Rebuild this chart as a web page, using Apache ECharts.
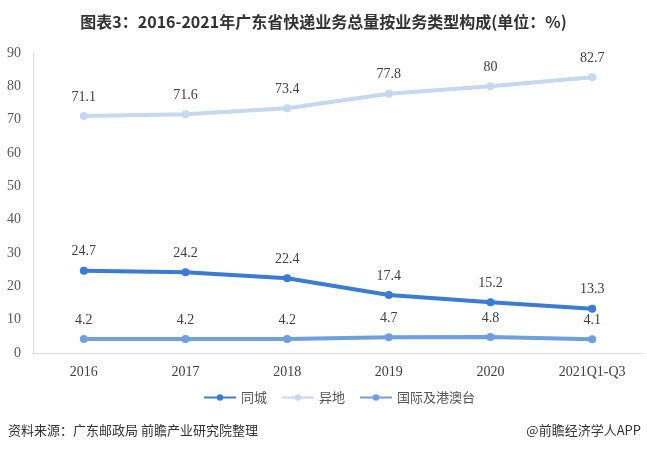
<!DOCTYPE html>
<html><head><meta charset="utf-8">
<script src="https://cdn.jsdelivr.net/npm/echarts@6/dist/echarts.min.js"></script>
<style>html,body{margin:0;padding:0;background:#fff;}#c{width:647px;height:450px;}</style>
</head><body><div id="c"></div>
<script>
const categories = ['2016','2017','2018','2019','2020','2021Q1-Q3'];
const sameCity = [24.7, 24.2, 22.4, 17.4, 15.2, 13.3];
const interCity = [71.1, 71.6, 73.4, 77.8, 80, 82.7];
const intl = [4.2, 4.2, 4.2, 4.7, 4.8, 4.1];
const seriesNames = ['同城','异地','国际及港澳台'];
const yTicks = {min:0, max:90, interval:10};

const chart = echarts.init(document.getElementById('c'));
const labelStyle = {show:true, position:'top', distance:8, color:'#404040', fontFamily:'Liberation Serif', fontSize:14};
function mk(name, data, color){
  return {name, type:'line', data, symbol:'circle', symbolSize:8,
    lineStyle:{width:4, color}, itemStyle:{color}, label:labelStyle};
}
chart.setOption({
  animation:false,
  title:{text:'图表3：2016-2021年广东省快递业务总量按业务类型构成(单位：%)', left:'center', top:9,
    textStyle:{fontFamily:'Noto Sans CJK SC', fontWeight:'bold', fontSize:16, color:'#333'}},
  grid:{left:33, right:4, top:53, bottom:97},
  xAxis:{type:'category', data:categories, boundaryGap:true,
    axisLine:{lineStyle:{color:'#d9d9d9'}}, axisTick:{show:false},
    axisLabel:{color:'#404040', fontFamily:'Liberation Serif', fontSize:14, margin:12}},
  yAxis:{type:'value', min:yTicks.min, max:yTicks.max, interval:yTicks.interval,
    axisLine:{show:true, lineStyle:{color:'#d9d9d9'}}, axisTick:{show:false}, splitLine:{show:false},
    axisLabel:{color:'#595959', fontFamily:'Liberation Serif', fontSize:14, margin:12}},
  legend:{data:seriesNames, bottom:41, left:198, itemWidth:32, itemHeight:8, itemGap:14,
    textStyle:{fontFamily:'Noto Sans CJK SC', fontSize:13, color:'#555'}},
  series:[mk(seriesNames[0], sameCity, '#3a7bd5'), mk(seriesNames[1], interCity, '#c6d8ef'), mk(seriesNames[2], intl, '#6e9fe2')],
  graphic:[
    {type:'text', left:8, top:424, style:{text:'资料来源：广东邮政局 前瞻产业研究院整理', fontFamily:'Noto Sans CJK SC', fontSize:13, fill:'#333'}},
    {type:'text', right:6, top:424, style:{text:'@前瞻经济学人APP', fontFamily:'Noto Sans CJK SC', fontSize:13, fill:'#333'}}
  ]
});
</script></body></html>
